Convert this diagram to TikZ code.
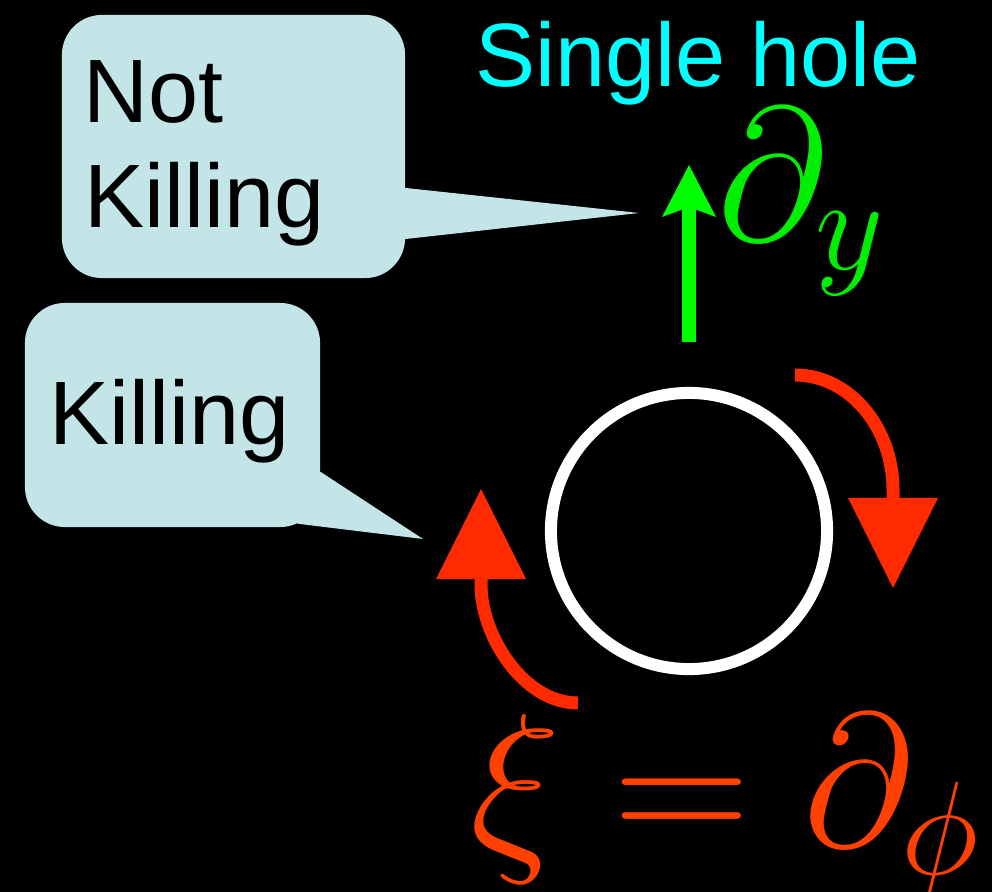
\RequirePackage{fix-cm}
\documentclass[tikz,border=0pt]{standalone}
\usepackage{fontspec}
\newfontfamily\arial{Liberation Sans}
\usetikzlibrary{arrows.meta,calc}
\definecolor{bub}{HTML}{C4E5E8}
\definecolor{cyanT}{HTML}{00FFFF}
\definecolor{greenA}{HTML}{00FF00}
\definecolor{greenT}{HTML}{00EE00}
\definecolor{redA}{HTML}{FF2A00}
\definecolor{orangeT}{HTML}{FF4000}
\begin{document}
\begin{tikzpicture}[x=0.01cm,y=-0.01cm,
  bubble/.style={rectangle, fill=bub, draw=none, inner sep=0pt, rounded corners=0.4cm},
  lbl/.style={font=\arial\fontsize{25.6pt}{30pt}\selectfont, inner sep=0pt, anchor=base west},
  mth/.style={font=\fontsize{54pt}{62pt}\selectfont, inner sep=0pt, anchor=base west},
  redarrow/.style={draw=redA, line width=0.13cm, -{Triangle[length=0.9cm, width=0.9cm, line width=0pt]}}
]
\fill[black] (0,0) rectangle (992,892);
\useasboundingbox (0,0) rectangle (992,892);

% bubble "Not Killing"
\node[bubble, minimum width=3.43cm, minimum height=2.63cm] (nk) at (233.5,146.5) {};
\coordinate (nktip) at (639,213);
\fill[bub] ($(nk.east)+(0,41.5)$) -- (nktip) -- ($(nk.east)+(0,92.5)$) -- ($(nk.east)+(-20,92.5)$) -- ($(nk.east)+(-20,41.5)$) -- cycle;
\node[lbl] (t1) at (83,123) {Not};
\node[lbl] (t2) at (84,228) {Killing};

% bubble "Killing"
\node[bubble, minimum width=2.95cm, minimum height=2.24cm] (kb) at (172.5,415) {};
\coordinate (kbtip) at (423,539);
\fill[bub] ($(kb.east)+(0,57)$) -- (kbtip) -- ($(kb.south east)+(-23,-4)$) -- ($(kb.south east)+(-30,-60)$) -- cycle;
\node[lbl] (t3) at (49,445) {Killing};

% title
\node[lbl, text=cyanT] (title) at (475,87) {Single hole};

% hole
\node[circle, draw=white, line width=0.12cm, minimum size=2.76cm, inner sep=0pt] (hole) at (689,531) {};

% green arrow
\coordinate (gb) at (689,342);
\coordinate (gt) at (689,165);
\draw[draw=greenA, line width=0.14cm, -{Stealth[length=0.52cm, width=0.54cm, inset=0.1cm, line width=0pt]}] (gb) -- (gt);
\node[mth, text=greenT] (dy) at (717,241) {$\partial_y$};

% red arrows
\coordinate (r1s) at (795,375);
\coordinate (r1t) at (893,588);
\draw[redarrow] (r1s) .. controls (849,375) and (893,427) .. (893,490) -- (r1t);
\coordinate (r2s) at (578,703);
\coordinate (r2t) at (481,489);
\draw[redarrow] (r2s) .. controls (523,703) and (481,635) .. (481,585) -- (r2t);

% formula
\node[mth, text=orangeT] (xi) at (470,846) {$\xi=\partial_\phi$};
\end{tikzpicture}
\end{document}
